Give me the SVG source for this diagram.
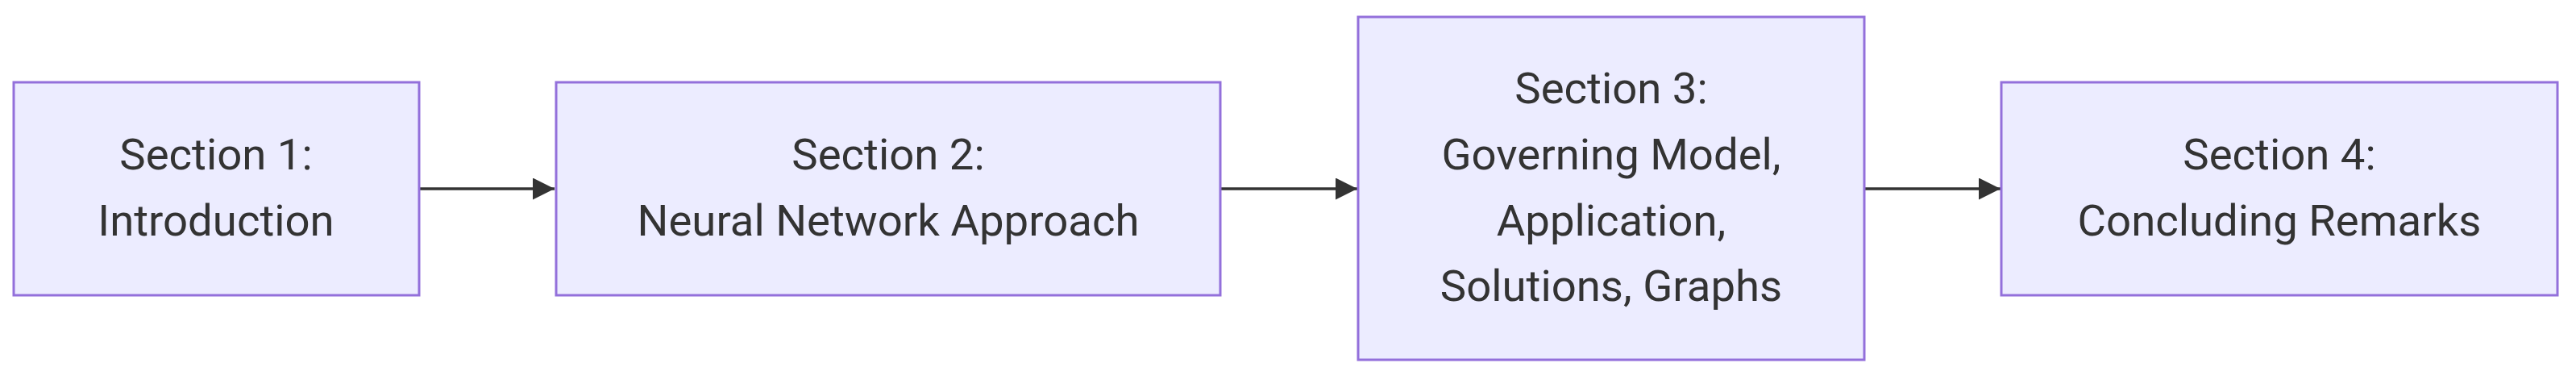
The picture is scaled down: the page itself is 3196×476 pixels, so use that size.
<svg xmlns="http://www.w3.org/2000/svg" width="3196" height="476" viewBox="0 0 3196 476">
<defs>
<style>
.node rect{fill:#ECECFF;stroke:#9370DB;stroke-width:3}
.node text{font-family:Roboto,"Liberation Sans",sans-serif;font-size:54.5px;fill:#333333;text-anchor:middle}
.edge{stroke:#333333;stroke-width:3.4;fill:none}
</style>
<marker id="arrow" viewBox="0 0 10 10" refX="10" refY="5" markerUnits="userSpaceOnUse" markerWidth="27" markerHeight="27" orient="auto">
<path d="M0,0 L10,5 L0,10 Z" fill="#333333"/>
</marker>
</defs>
<rect width="3196" height="476" fill="#ffffff"/>
<g id="connectors">
<path class="edge" d="M520,234 L688,234" marker-end="url(#arrow)"/>
<path class="edge" d="M1515,234 L1684,234" marker-end="url(#arrow)"/>
<path class="edge" d="M2314,234 L2482,234" marker-end="url(#arrow)"/>
</g>
<g id="node1" class="node">
<rect x="17" y="102" width="503" height="264"/>
<text x="268" y="210">Section 1:</text>
<text x="268" y="292">Introduction</text>
</g>
<g id="node2" class="node">
<rect x="690" y="102" width="824" height="264"/>
<text x="1102" y="210">Section 2:</text>
<text x="1102" y="292">Neural Network Approach</text>
</g>
<g id="node3" class="node">
<rect x="1685" y="21" width="628" height="425"/>
<text x="1999" y="128">Section 3:</text>
<text x="1999" y="210">Governing Model,</text>
<text x="1999" y="292">Application,</text>
<text x="1999" y="373">Solutions, Graphs</text>
</g>
<g id="node4" class="node">
<rect x="2483" y="102" width="690" height="264"/>
<text x="2828" y="210">Section 4:</text>
<text x="2828" y="292">Concluding Remarks</text>
</g>
</svg>
